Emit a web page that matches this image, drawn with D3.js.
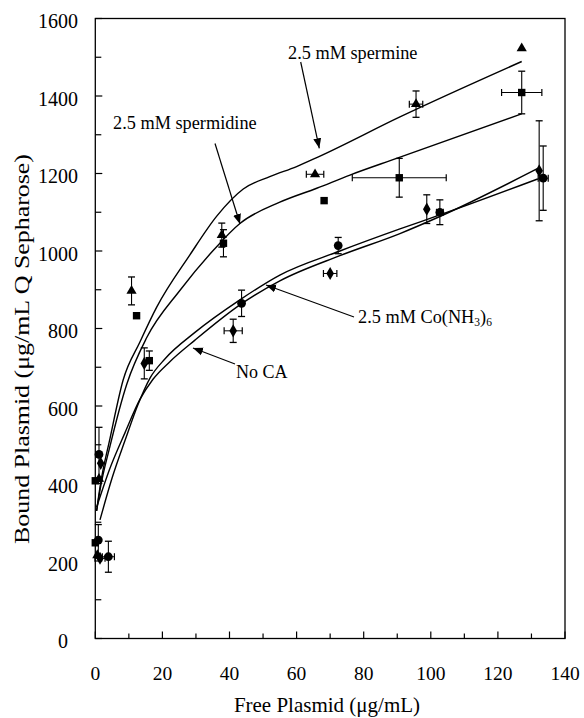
<!DOCTYPE html>
<html>
<head>
<meta charset="utf-8">
<script src="https://cdn.jsdelivr.net/npm/d3@7"></script>
<style>
  body { margin: 0; background: #fff; }
  text { font-family: "Liberation Serif", "DejaVu Serif", serif; fill: #000; }
</style>
</head>
<body>
<script>
// axis ticks
var xTicks = [0, 20, 40, 60, 80, 100, 120, 140];
var yTicks = [0, 200, 400, 600, 800, 1000, 1200, 1400, 1600];

var spermineX = [0.6, 1.1, 10.8, 37.7, 65.5, 95.6, 127.1];
var spermineY = [215, 412, 897, 1041, 1198, 1379, 1523];
var spermineXErr = [0, 0, 0, 0, 2.6, 2, 0];
var spermineYErr = [0, 0, 36, 31, 0, 34, 0];

var spermidineX = [0, 0, 12.3, 16.1, 38.2, 68.2, 90.6, 127.1];
var spermidineY = [247, 407, 833, 717, 1020, 1130, 1189, 1409];
var spermidineXErr = [0, 0, 0, 0, 0, 0, 14, 6];
var spermidineYErr = [0, 0, 0, 25, 35, 0, 50, 55];

var cobaltX = [1.4, 1.6, 14.6, 41.1, 70.0, 98.8, 132.3];
var cobaltY = [207, 452, 710, 794, 942, 1108, 1207];
var cobaltXErr = [1.5, 0, 0, 2.7, 2, 0, 0];
var cobaltYErr = [0, 0, 40, 30, 0, 37, 129];

var noCaX = [0.9, 1.1, 3.9, 43.6, 72.4, 102.7, 133.5];
var noCaY = [254, 475, 211, 865, 1014, 1100, 1188];
var noCaXErr = [0, 0, 1.8, 0, 0, 1, 1.5];
var noCaYErr = [40, 70, 40, 34, 21, 32, 83];

// fitted curves
var spermineCurveX = [0.4, 1.4, 4.4, 8.3, 13.3, 18.3, 28.2, 36.2, 44.1, 52.0, 60.0, 66.5, 90.8, 127.1];
var spermineCurveY = [330, 391, 517, 667, 765, 855, 990, 1090, 1160, 1192, 1218, 1243, 1346, 1489];
var spermidineCurveX = [0.4, 1.4, 4.4, 9.4, 15.3, 25.2, 35.2, 43.1, 55.0, 66.0, 75.9, 89.8, 127.1];
var spermidineCurveY = [329, 383, 497, 657, 776, 898, 1002, 1071, 1126, 1162, 1196, 1239, 1354];
var curveAX = [1.4, 5.0, 8.9, 12.7, 16.3, 20.8, 29.7, 43.1, 55.0, 72.9, 90.8, 102.7, 131.9];
var curveAY = [306, 414, 512, 603, 672, 722, 790, 874, 938, 1000, 1057, 1093, 1186];
var curveBX = [0.4, 4.4, 8.9, 13.3, 17.2, 22.3, 29.7, 43.1, 55.0, 72.9, 90.8, 102.7, 131.9];
var curveBY = [339, 440, 532, 617, 669, 715, 770, 861, 923, 988, 1045, 1089, 1213];

var width = 584, height = 718;
var plotLeft = 95.3, plotRight = 565, plotTop = 18.5, plotBottom = 638.5;

var svg = d3.select("body").append("svg")
            .attr("width", width)
            .attr("height", height);

var x = d3.scaleLinear().domain([0, 140]).range([plotLeft, plotRight]);
var y = d3.scaleLinear().domain([0, 1600]).range([plotBottom, plotTop]);

// arrow head
svg.append("defs").append("marker")
   .attr("id", "head")
   .attr("viewBox", "0 0 10 10")
   .attr("refX", 10).attr("refY", 5)
   .attr("markerWidth", 10).attr("markerHeight", 10)
   .attr("markerUnits", "userSpaceOnUse")
   .attr("orient", "auto")
   .append("path").attr("d", "M0,1 L10,5 L0,9 Z").attr("fill", "#000");

// frame
svg.append("rect")
   .attr("x", plotLeft).attr("y", plotTop)
   .attr("width", plotRight - plotLeft).attr("height", plotBottom - plotTop)
   .attr("fill", "none").attr("stroke", "#000").attr("stroke-width", 1.3);

// inward ticks, minor every half step
var xMinor = d3.range(0, 141, 10);
svg.selectAll(".xt").data(xMinor).enter().append("line")
   .attr("x1", function (d) { return x(d); })
   .attr("x2", function (d) { return x(d); })
   .attr("y1", plotBottom)
   .attr("y2", function (d) { return d % 20 === 0 ? plotBottom - 7 : plotBottom - 5; })
   .attr("stroke", "#000").attr("stroke-width", 1.2);

var yMinor = d3.range(0, 1601, 100);
svg.selectAll(".yt").data(yMinor).enter().append("line")
   .attr("y1", function (d) { return y(d); })
   .attr("y2", function (d) { return y(d); })
   .attr("x1", plotLeft)
   .attr("x2", function (d) { return d % 200 === 0 ? plotLeft + 7 : plotLeft + 6; })
   .attr("stroke", "#000").attr("stroke-width", 1.2);

// tick labels
svg.selectAll(".xl").data(xTicks).enter().append("text")
   .attr("x", function (d) { return x(d); })
   .attr("y", 680)
   .attr("text-anchor", "middle")
   .style("font-size", "19.5px")
   .text(function (d) { return d; });

svg.selectAll(".yl").data(yTicks).enter().append("text")
   .attr("x", function (d) { return d === 0 ? 68 : 78; })
   .attr("y", function (d) { return y(d) + 9.5; })
   .attr("text-anchor", "end")
   .style("font-size", "20px")
   .text(function (d) { return d; });

// axis titles
svg.append("text")
   .attr("x", 327).attr("y", 712)
   .attr("text-anchor", "middle")
   .style("font-size", "21px")
   .text("Free Plasmid (\u03bcg/mL)");

svg.append("text")
   .attr("transform", "translate(29,349) rotate(-90)")
   .attr("text-anchor", "middle")
   .attr("textLength", 390)
   .attr("lengthAdjust", "spacingAndGlyphs")
   .style("font-size", "22px")
   .text("Bound Plasmid (\u03bcg/mL Q Sepharose)");

// curves
var line = d3.line()
             .x(function (d) { return x(d[0]); })
             .y(function (d) { return y(d[1]); })
             .curve(d3.curveMonotoneX);

[[spermineCurveX, spermineCurveY], [spermidineCurveX, spermidineCurveY],
 [curveAX, curveAY], [curveBX, curveBY]].forEach(function (c) {
  svg.append("path")
     .datum(d3.zip(c[0], c[1]))
     .attr("d", line)
     .attr("fill", "none")
     .attr("stroke", "#000")
     .attr("stroke-width", 1.4);
});

// error bars and markers
function drawSeries(xs, ys, xe, ye, symbol, size) {
  var pts = xs.map(function (d, i) {
    return { x: d, y: ys[i], ex: xe[i], ey: ye[i] };
  });
  var g = svg.append("g");
  pts.forEach(function (p) {
    var cx = x(p.x), cy = y(p.y);
    if (p.ey > 0) {
      var y0 = y(p.y - p.ey), y1 = y(p.y + p.ey);
      g.append("line").attr("x1", cx).attr("x2", cx).attr("y1", y0).attr("y2", y1)
       .attr("stroke", "#000").attr("stroke-width", 1.1);
      [y0, y1].forEach(function (v) {
        g.append("line").attr("x1", cx - 3.5).attr("x2", cx + 3.5).attr("y1", v).attr("y2", v)
         .attr("stroke", "#000").attr("stroke-width", 1.3);
      });
    }
    if (p.ex > 0) {
      var x0 = x(p.x - p.ex), x1 = x(p.x + p.ex);
      g.append("line").attr("x1", x0).attr("x2", x1).attr("y1", cy).attr("y2", cy)
       .attr("stroke", "#000").attr("stroke-width", 1);
      [x0, x1].forEach(function (v) {
        g.append("line").attr("x1", v).attr("x2", v).attr("y1", cy - 3.5).attr("y2", cy + 3.5)
         .attr("stroke", "#000").attr("stroke-width", 1.2);
      });
    }
  });
  g.selectAll("path.m").data(pts).enter().append("path")
   .attr("d", d3.symbol().type(symbol).size(size))
   .attr("transform", function (d) { return "translate(" + x(d.x) + "," + y(d.y) + ")"; })
   .attr("fill", "#000");
}

drawSeries(spermineX, spermineY, spermineXErr, spermineYErr, d3.symbolTriangle, 45);
drawSeries(spermidineX, spermidineY, spermidineXErr, spermidineYErr, d3.symbolSquare, 55);
drawSeries(cobaltX, cobaltY, cobaltXErr, cobaltYErr, d3.symbolDiamond, 50);
drawSeries(noCaX, noCaY, noCaXErr, noCaYErr, d3.symbolCircle, 60);

// annotations
function arrow(x1, y1, x2, y2) {
  svg.append("line")
     .attr("x1", x1).attr("y1", y1).attr("x2", x2).attr("y2", y2)
     .attr("stroke", "#000").attr("stroke-width", 1.2)
     .attr("marker-end", "url(#head)");
}

svg.append("text").attr("x", 288).attr("y", 59).style("font-size", "18.3px")
   .text("2.5 mM spermine");
arrow(300.7, 62, 319.3, 148.3);

svg.append("text").attr("x", 113).attr("y", 128.5).style("font-size", "18.3px")
   .text("2.5 mM spermidine");
arrow(215, 143.5, 240, 224);

var co = svg.append("text").attr("x", 358).attr("y", 322.5).style("font-size", "18.3px");
co.append("tspan").text("2.5 mM Co(NH");
co.append("tspan").attr("dy", 3).style("font-size", "11.5px").text("3");
co.append("tspan").attr("dy", -3).text(")");
co.append("tspan").attr("dy", 3).style("font-size", "11.5px").text("6");
arrow(354, 317, 266, 285);

svg.append("text").attr("x", 236).attr("y", 377.5).style("font-size", "18px")
   .text("No CA");
arrow(235, 364, 193, 348);
</script>
</body>
</html>
